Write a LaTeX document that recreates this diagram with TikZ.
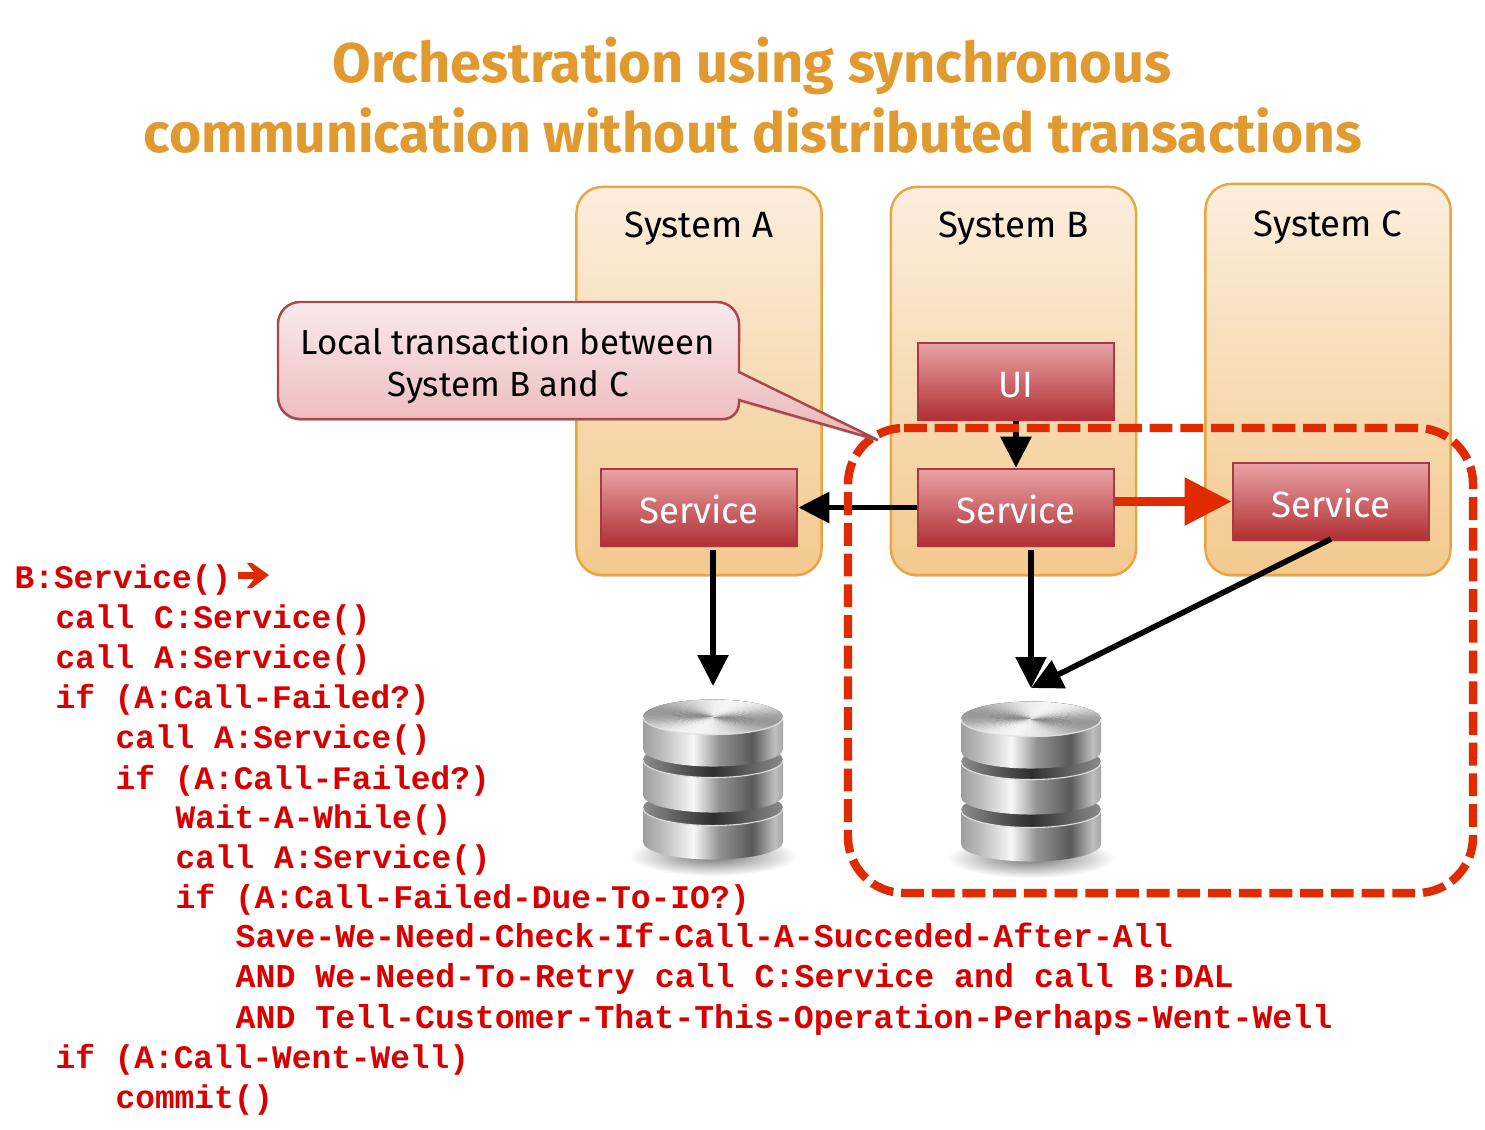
\documentclass[tikz,border=0pt]{standalone}
\usepackage{fontspec}
\usepackage{tikz}
\usetikzlibrary{arrows.meta, shadows}
\setmainfont{Fira Sans}
\newfontfamily\codefont{Liberation Mono}
\definecolor{titleorange}{HTML}{E09A30}
\definecolor{sysedge}{HTML}{E9A63F}
\definecolor{systop}{HTML}{FBEEDD}
\definecolor{sysbot}{HTML}{F3C98E}
\definecolor{svcedge}{HTML}{A63A3F}
\definecolor{svctop}{HTML}{E9A3A5}
\definecolor{svcbot}{HTML}{B02F34}
\definecolor{calltop}{HTML}{F9EAEB}
\definecolor{callbot}{HTML}{ECB6B8}
\definecolor{calledge}{HTML}{A8474C}
\definecolor{dashred}{HTML}{E02B00}
\definecolor{codered}{HTML}{D90000}
\pgfdeclarehorizontalshading{metal}{100bp}{color(0bp)=(black!38); color(25bp)=(black!38); color(31bp)=(black!28); color(43bp)=(black!3); color(52bp)=(black!42); color(64bp)=(black!65); color(72bp)=(black!25); color(75bp)=(black!35); color(100bp)=(black!35)}
\tikzset{
  sysbox/.style={draw=sysedge, line width=0.7pt, rounded corners=2.6mm, top color=systop, bottom color=sysbot, minimum width=2.45cm, inner sep=0pt, drop shadow={shadow xshift=0pt, shadow yshift=-0.5pt, opacity=0.25}},
  syslabel/.style={font=\fontsize{10.4}{12}\selectfont},
  svcbox/.style={draw=svcedge, line width=0.7pt, top color=svctop, bottom color=svcbot, text=white, minimum width=1.96cm, minimum height=0.77cm, inner sep=0pt, text height=9pt, text depth=0pt, font=\fontsize{10.4}{12}\selectfont, drop shadow={shadow xshift=0pt, shadow yshift=-0.5pt, opacity=0.3}},
  calloutbox/.style={draw=calledge, line width=0.7pt, top color=calltop, bottom color=callbot, drop shadow={shadow xshift=0pt, shadow yshift=-0.6pt, opacity=0.3}},
  conn/.style={line width=1.6pt, -{Triangle[length=0.31cm, width=0.3cm]}},
  redconn/.style={dashred, line width=2.4pt, -{Triangle[length=0.47cm, width=0.46cm]}},
  codeline/.style={anchor=base west, inner sep=0pt, xshift=-0.3pt, yshift=-0.3pt, text=codered},
  dbstack/.pic={
    \path[shading=radial, inner color=black!55, outer color=white] (0,139) ellipse (0.84cm and 0.2cm);
    % bottom disc up to top disc
    \foreach \t/\b in {91/125, 43/78, 0/32}{
      \path[shading=metal] (-70,\t) -- (-70,\b) arc[start angle=180, end angle=360, x radius=0.7cm, y radius=0.175cm] -- (70,\t) arc[start angle=0, end angle=180, x radius=0.7cm, y radius=0.175cm] -- cycle;
      \path[left color=black!45, right color=black!45, middle color=black!82] (0,\t) ellipse (0.7cm and 0.175cm);
      \draw[black!12, line width=0.3pt] (-70,\t) arc[start angle=180, end angle=360, x radius=0.7cm, y radius=0.175cm];
    }
    \foreach \a in {0,5,...,355}{
      \pgfmathsetmacro\lvl{22+18*cos(2*\a+40)}
      \fill[black!\lvl] (0,0) -- ({70*cos(\a)},{-17.5*sin(\a)}) -- ({70*cos(\a+6)},{-17.5*sin(\a+6)}) -- cycle;
    }
    \draw[black!12, line width=0.3pt] (-70,0) arc[start angle=180, end angle=360, x radius=0.7cm, y radius=0.175cm];
  }
}

\begin{document}
\begin{tikzpicture}[x=0.01cm, y=-0.01cm]
\useasboundingbox (0,0) rectangle (1485,1129);

\node[text=titleorange, font=\fontsize{15.9}{20}\bfseries\selectfont] (titleone) at (752,66) {Orchestration using synchronous};
\node[text=titleorange, font=\fontsize{15.7}{20}\bfseries\selectfont] (titletwo) at (753,131) {communication without distributed transactions};

\node[sysbox, minimum height=3.88cm] (sysA) at (699,381) {};
\node[sysbox, minimum height=3.88cm] (sysB) at (1013.5,381) {};
\node[sysbox, minimum height=3.91cm] (sysC) at (1328,379.5) {};
\node[syslabel] (sysAlabel) at (699,229) {System A};
\node[syslabel] (sysBlabel) at (1013.5,229) {System B};
\node[syslabel] (sysClabel) at (1328,228) {System C};

\node[svcbox] (uiB) at (1016,381.5) {UI};
\node[svcbox] (svcA) at (699,507.5) {Service};
\node[svcbox] (svcB) at (1016,507.5) {Service};
\node[svcbox] (svcC) at (1331,501.5) {Service};

\pic at (713,717) {dbstack};
\pic at (1031,719) {dbstack};

\coordinate (svcAout) at (713,550);
\coordinate (dbAin) at (713,686);
\coordinate (svcBout) at (1031,550);
\coordinate (dbBin) at (1031,688);
\coordinate (svcCout) at (1331,539);

\draw[conn] (uiB) -- (svcB);
\draw[conn] (svcB) -- (svcA);
\draw[redconn] (svcB.east |- svcC) -- (svcC);
\draw[conn] (svcAout) -- (dbAin);
\draw[conn] (svcBout) -- (dbBin);
\draw[conn] (svcCout) -- (dbBin);

\draw[dashred, line width=2.4pt, dash pattern=on 6.5pt off 2.23pt]
  (904,428) -- (1417,428) arc[start angle=90, end angle=0, radius=0.56cm]
  -- (1473,837) arc[start angle=0, end angle=-90, radius=0.56cm]
  -- (904,893) arc[start angle=270, end angle=180, radius=0.56cm]
  -- (848,484) arc[start angle=180, end angle=90, radius=0.56cm];

\draw[calloutbox]
  (508,302) -- (717,302) arc[start angle=90, end angle=0, radius=0.22cm]
  -- (739,372) -- (878,440) -- (739,400) -- (739,403) arc[start angle=0, end angle=-90, radius=0.16cm]
  -- (300,419) arc[start angle=270, end angle=180, radius=0.22cm]
  -- (278,324) arc[start angle=180, end angle=90, radius=0.22cm] -- cycle;
\node[align=center, font=\fontsize{9.9}{12}\selectfont] (calloutlabel) at (508,366) {Local transaction between\\System B and C};

\foreach \xpos/\ypos/\fs/\txt [count=\i] in {
  15/587/9.33/{B:Service()},
  56/627/9.33/{call C:Service()},
  56/667/9.33/{call A:Service()},
  56/707/9.33/{if (A:Call-Failed?)},
  116/747/9.33/{call A:Service()},
  116/788/9.33/{if (A:Call-Failed?)},
  176/827/9.33/{Wait-A-While()},
  176/867/9.33/{call A:Service()},
  176/907/9.38/{if (A:Call-Failed-Due-To-IO?)},
  236/946/9.45/{Save-We-Need-Check-If-Call-A-Succeded-After-All},
  236/986/9.46/{AND We-Need-To-Retry call C:Service and call B:DAL},
  236/1027/9.45/{AND Tell-Customer-That-This-Operation-Perhaps-Went-Well},
  56/1067/9.33/{if (A:Call-Went-Well)},
  116/1107/9.33/{commit()}}{
  \node[codeline, font=\codefont\bfseries\fontsize{\fs}{11}\selectfont] (line\i) at (\xpos,\ypos) {\txt};
}
\fill[dashred] (238,572) -- (254,572) -- (247,563) -- (252,563) -- (269,575) -- (252,588) -- (247,588) -- (254,579) -- (238,579) -- cycle;
\end{tikzpicture}
\end{document}
